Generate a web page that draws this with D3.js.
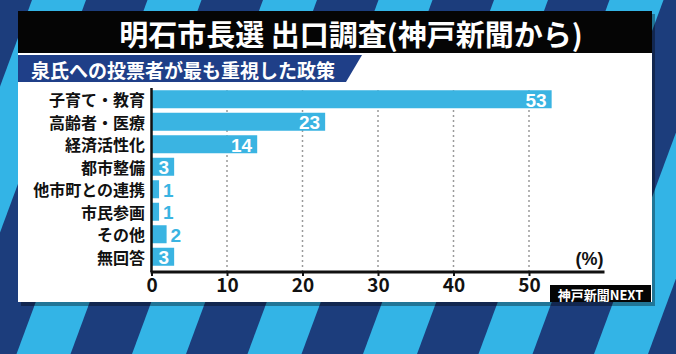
<!DOCTYPE html>
<html>
<head>
<meta charset="utf-8">
<script src="https://cdn.jsdelivr.net/npm/d3@7/dist/d3.min.js"></script>
<style>
body { margin: 0; background: #1c3d7c; }
svg { display: block; }
text { font-family: "Noto Sans CJK JP", "Noto Sans", sans-serif; font-weight: 700; }
text.num { font-family: "Liberation Sans", Arial, sans-serif; }
</style>
</head>
<body>
<svg id="chart" width="676" height="354"></svg>
<script>
var categories = ['子育て・教育', '高齢者・医療', '経済活性化', '都市整備', '他市町との連携', '市民参画', 'その他', '無回答'];
var values = [53, 23, 14, 3, 1, 1, 2, 3];
var xTicks = [0, 10, 20, 30, 40, 50];
var titleText = '明石市長選 出口調査(神戸新聞から)';
var subtitleText = '泉氏への投票者が最も重視した政策';
var sourceText = '神戸新聞NEXT';

var W = 676, H = 354;
var barColor = '#3ab4e2';
var numFont = '"Liberation Sans", Arial, sans-serif';
var svg = d3.select('#chart');

// background stripes
svg.append('rect').attr('width', W).attr('height', H).attr('fill', '#1c3d7c');
var period = 115.5, stripeW = 54, slope = 0.37, start = 32;
var stripes = d3.range(-2, 8);
svg.selectAll('polygon.stripe')
	.data(stripes)
	.enter()
	.append('polygon')
	.attr('class', 'stripe')
	.attr('fill', '#33b4e6')
	.attr('points', function(k) {
		var x0 = start + k * period;
		var dx = slope * H;
		return [[x0, 0], [x0 + stripeW, 0], [x0 + stripeW - dx, H], [x0 - dx, H]].join(' ');
	});

// white panel
svg.append('rect')
	.attr('x', 21).attr('y', 14).attr('width', 634).attr('height', 292)
	.attr('fill', 'rgba(0,0,0,0.35)');
svg.append('rect')
	.attr('x', 18).attr('y', 11).attr('width', 634).attr('height', 291)
	.attr('fill', '#ffffff');

// title bar
svg.append('rect')
	.attr('x', 18).attr('y', 11).attr('width', 634).attr('height', 42)
	.attr('fill', '#050505');
svg.append('text')
	.attr('x', 351).attr('y', 33)
	.attr('text-anchor', 'middle')
	.attr('dominant-baseline', 'central')
	.attr('font-size', 29)
	.attr('fill', '#ffffff')
	.text(titleText);

// subtitle bar
svg.append('polygon')
	.attr('points', '18,55 362,55 346,82 18,82')
	.attr('fill', '#1f3f88');
svg.append('text')
	.attr('x', 31).attr('y', 69)
	.attr('dominant-baseline', 'central')
	.attr('font-size', 19)
	.attr('fill', '#ffffff')
	.text(subtitleText);

// scales
var x = d3.scaleLinear().domain([0, 60]).range([151.5, 604.5]);
var y = d3.scaleBand().domain(categories).range([88, 268]).paddingInner(0.2).paddingOuter(0.1);
var axisY = 272;

// dotted grid
svg.selectAll('line.grid')
	.data(xTicks.slice(1))
	.enter()
	.append('line')
	.attr('class', 'grid')
	.attr('x1', d => x(d)).attr('x2', d => x(d))
	.attr('y1', 90).attr('y2', axisY)
	.attr('stroke', '#9a9a9a')
	.attr('stroke-width', 1.5)
	.attr('stroke-dasharray', '2,3');

// bars
svg.selectAll('rect.bar')
	.data(values)
	.enter()
	.append('rect')
	.attr('class', 'bar')
	.attr('x', x(0))
	.attr('y', (d, i) => y(categories[i]))
	.attr('width', d => x(d) - x(0))
	.attr('height', y.bandwidth())
	.attr('fill', barColor);

// value labels
svg.selectAll('text.val')
	.data(values)
	.enter()
	.append('text')
	.attr('class', 'val num')
	.attr('x', d => d >= 3 ? x(d) - 5 : x(d) + 4)
	.attr('y', (d, i) => y(categories[i]) + y.bandwidth() / 2 + 1)
	.attr('text-anchor', d => d >= 3 ? 'end' : 'start')
	.attr('dominant-baseline', 'central')
	.attr('font-size', 19)
	.attr('fill', d => d >= 3 ? '#ffffff' : barColor)
	.text(d => d);

// category labels
svg.selectAll('text.cat')
	.data(categories)
	.enter()
	.append('text')
	.attr('class', 'cat')
	.attr('x', 145)
	.attr('y', d => y(d) + y.bandwidth() / 2)
	.attr('text-anchor', 'end')
	.attr('dominant-baseline', 'central')
	.attr('font-size', 16)
	.attr('fill', '#111111')
	.text(d => d);

// axes
var xAxis = svg.append('g')
	.attr('transform', 'translate(0,' + axisY + ')')
	.call(d3.axisBottom(x).tickValues(xTicks).tickSize(4).tickPadding(2).tickFormat(d3.format('d')));
xAxis.select('.domain').remove();
xAxis.selectAll('.tick line').attr('stroke', '#111').attr('stroke-width', 2);
xAxis.selectAll('.tick text')
	.attr('font-size', 19)
	.attr('fill', '#111')
	.attr('font-family', numFont)
	.attr('font-weight', 700);

svg.append('line')
	.attr('x1', x(0) - 1).attr('x2', x(60))
	.attr('y1', axisY).attr('y2', axisY)
	.attr('stroke', '#111').attr('stroke-width', 3);
svg.append('line')
	.attr('x1', x(0)).attr('x2', x(0))
	.attr('y1', 88).attr('y2', axisY)
	.attr('stroke', '#111').attr('stroke-width', 2.5);

svg.append('text')
	.attr('class', 'num')
	.attr('x', x(60) - 1).attr('y', 259)
	.attr('text-anchor', 'end')
	.attr('dominant-baseline', 'central')
	.attr('font-size', 18)
	.attr('fill', '#111')
	.text('(%)');

// source box
svg.append('rect')
	.attr('x', 550).attr('y', 285).attr('width', 101).attr('height', 17)
	.attr('fill', '#050505');
svg.append('text')
	.attr('x', 600.5).attr('y', 294)
	.attr('text-anchor', 'middle')
	.attr('dominant-baseline', 'central')
	.attr('font-size', 13)
	.attr('font-weight', 500)
	.attr('fill', '#ffffff')
	.text(sourceText);
</script>
</body>
</html>
